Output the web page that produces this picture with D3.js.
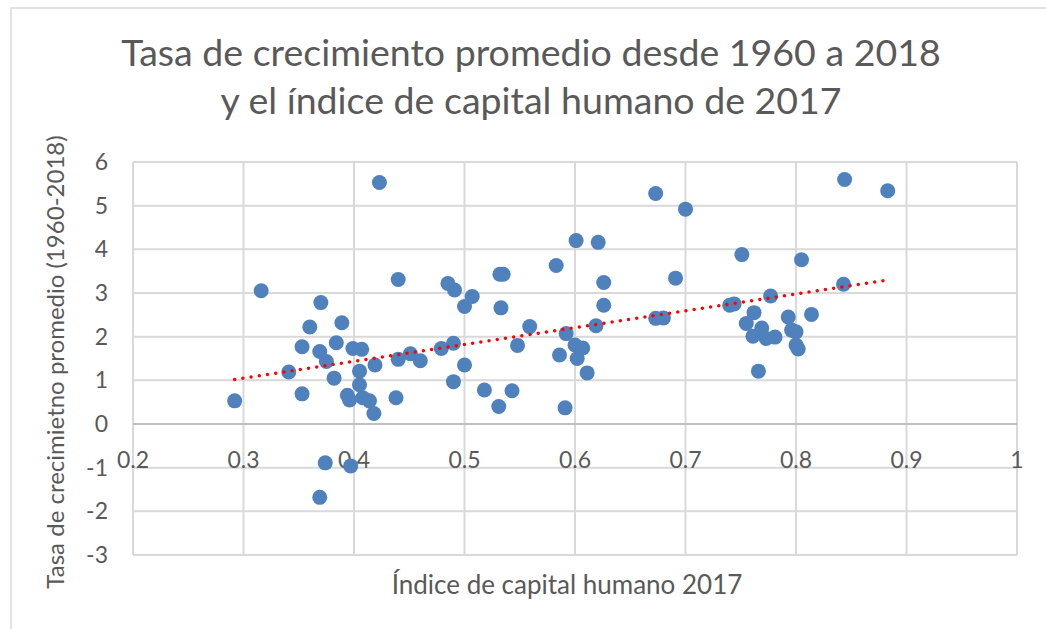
<!DOCTYPE html>
<html>
<head>
<meta charset="utf-8">
<script src="https://cdn.jsdelivr.net/npm/d3@7"></script>
<style>
  body { margin: 0; background: #fff; }
  text { font-family: Lato, "Open Sans", sans-serif; fill: #595959; }
</style>
</head>
<body>
<div id="chart"></div>
<script>
// indice de capital humano 2017
var capitalHumano = [
  0.292, 0.316, 0.341, 0.353, 0.353, 0.360, 0.369, 0.370, 0.369, 0.375,
  0.374, 0.382, 0.384, 0.389, 0.394, 0.396, 0.397, 0.399, 0.407, 0.405,
  0.405, 0.408, 0.414, 0.418, 0.419, 0.423, 0.438, 0.440, 0.440, 0.451,
  0.460, 0.479, 0.485, 0.490, 0.491, 0.490, 0.500, 0.500, 0.507, 0.518,
  0.531, 0.532, 0.535, 0.533, 0.543, 0.548, 0.559, 0.583, 0.586, 0.591,
  0.592, 0.600, 0.601, 0.602, 0.607, 0.611, 0.619, 0.621, 0.626, 0.626,
  0.673, 0.673, 0.680, 0.691, 0.700, 0.740, 0.744, 0.751, 0.755, 0.761,
  0.762, 0.766, 0.769, 0.773, 0.777, 0.781, 0.793, 0.796, 0.800, 0.800,
  0.802, 0.805, 0.814, 0.843, 0.844, 0.883
];
// tasa de crecimiento promedio 1960-2018
var crecimiento = [
  0.53, 3.05, 1.19, 1.77, 0.69, 2.22, 1.66, 2.78, -1.68, 1.43,
  -0.89, 1.05, 1.86, 2.32, 0.66, 0.55, -0.96, 1.73, 1.71, 1.21,
  0.90, 0.60, 0.53, 0.24, 1.35, 5.53, 0.60, 3.31, 1.48, 1.61,
  1.45, 1.73, 3.22, 1.85, 3.07, 0.97, 2.69, 1.35, 2.92, 0.78,
  0.40, 3.43, 3.43, 2.66, 0.76, 1.80, 2.23, 3.63, 1.58, 0.37,
  2.07, 1.81, 4.20, 1.50, 1.74, 1.17, 2.25, 4.16, 3.24, 2.72,
  5.28, 2.42, 2.43, 3.34, 4.92, 2.72, 2.75, 3.88, 2.30, 2.01,
  2.55, 1.21, 2.20, 1.96, 2.93, 1.99, 2.45, 2.15, 2.11, 1.81,
  1.72, 3.76, 2.51, 3.20, 5.60, 5.34
];
var xTicks = [0.2, 0.3, 0.4, 0.5, 0.6, 0.7, 0.8, 0.9, 1];
var yTicks = [-3, -2, -1, 0, 1, 2, 3, 4, 5, 6];
// linea de tendencia lineal
var trendX = [0.292, 0.884];
var trendY = [1.02, 3.30];

var data = capitalHumano.map(function (d, i) { return {x: d, y: crecimiento[i]}; });

var margin = {top: 162, left: 133},
  width = 884,
  height = 393;

var svg = d3.select("#chart")
  .append("svg")
  .attr("width", 1046)
  .attr("height", 629);

// marco exterior
svg.append("path")
  .attr("d", "M11,629 V8 H1046")
  .attr("fill", "none")
  .attr("stroke", "#d9d9d9")
  .attr("stroke-width", 1.5);

var graph = svg.append("g")
  .attr("transform", "translate(" + margin.left + "," + margin.top + ")");

var x = d3.scaleLinear().domain([0.2, 1]).range([0, width]);
var y = d3.scaleLinear().domain([-3, 6]).range([height, 0]);

// grid
graph.selectAll(".vgrid")
  .data(xTicks)
  .enter().append("line")
  .attr("x1", function (d) { return x(d); })
  .attr("x2", function (d) { return x(d); })
  .attr("y1", 0)
  .attr("y2", height)
  .attr("stroke", "#d9d9d9")
  .attr("stroke-width", 2);

graph.selectAll(".hgrid")
  .data(yTicks)
  .enter().append("line")
  .attr("x1", 0)
  .attr("x2", width)
  .attr("y1", function (d) { return y(d); })
  .attr("y2", function (d) { return y(d); })
  .attr("stroke", function (d) { return d === 0 ? "#bfbfbf" : "#d9d9d9"; })
  .attr("stroke-width", 2);

// Y axis labels
graph.selectAll(".ylab")
  .data(yTicks)
  .enter().append("text")
  .attr("x", -25)
  .attr("y", function (d) { return y(d); })
  .attr("dy", "0.35em")
  .attr("text-anchor", "end")
  .style("font-size", "23px")
  .text(function (d) { return d; });

// X axis labels (on the zero line)
graph.selectAll(".xlab")
  .data(xTicks)
  .enter().append("text")
  .attr("x", function (d) { return x(d); })
  .attr("y", y(0) + 44)
  .attr("text-anchor", "middle")
  .style("font-size", "23px")
  .text(function (d) { return d; });

// points
graph.selectAll(".dot")
  .data(data)
  .enter().append("circle")
  .attr("cx", function (d) { return x(d.x); })
  .attr("cy", function (d) { return y(d.y); })
  .attr("r", 7.5)
  .attr("fill", "#4f81bd");

// trendline
graph.append("path")
  .datum(trendX.map(function (d, i) { return [d, trendY[i]]; }))
  .attr("fill", "none")
  .attr("stroke", "#ff0000")
  .attr("stroke-width", 3.5)
  .attr("stroke-linecap", "round")
  .attr("stroke-dasharray", "0 8.3")
  .attr("d", d3.line()
    .x(function (d) { return x(d[0]); })
    .y(function (d) { return y(d[1]); })
  );

// titles
svg.append("text")
  .attr("x", 531)
  .attr("y", 66)
  .attr("text-anchor", "middle")
  .style("font-size", "37.5px")
  .text("Tasa de crecimiento promedio desde 1960 a 2018");

svg.append("text")
  .attr("x", 531)
  .attr("y", 114)
  .attr("text-anchor", "middle")
  .style("font-size", "37.5px")
  .text("y el índice de capital humano de 2017");

svg.append("text")
  .attr("x", 567)
  .attr("y", 594)
  .attr("text-anchor", "middle")
  .style("font-size", "26px")
  .text("Índice de capital humano 2017");

svg.append("text")
  .attr("transform", "translate(64,362) rotate(-90)")
  .attr("text-anchor", "middle")
  .style("font-size", "24px")
  .text("Tasa de crecimietno promedio (1960-2018)");
</script>
</body>
</html>
